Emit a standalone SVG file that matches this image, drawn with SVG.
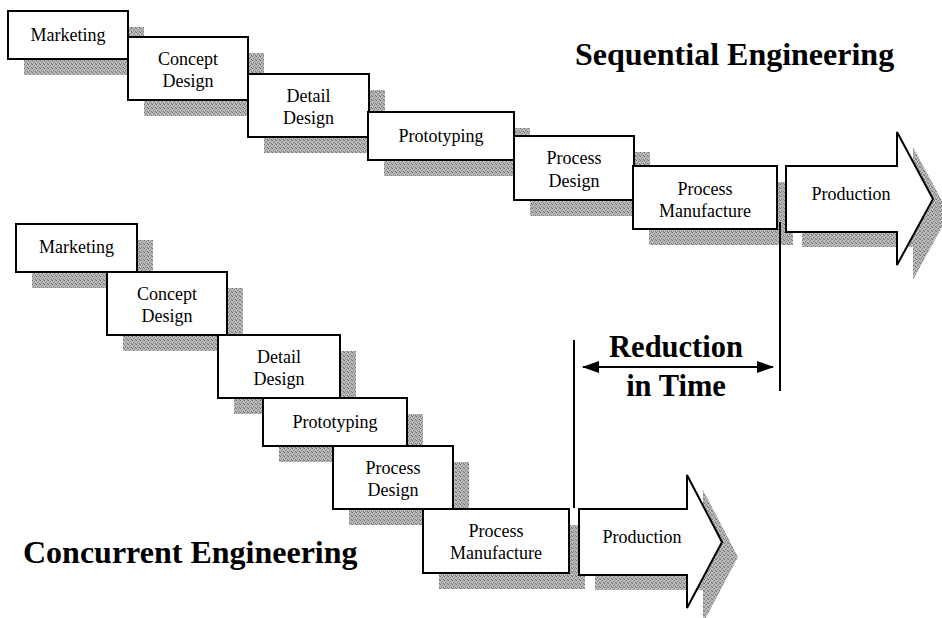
<svg xmlns="http://www.w3.org/2000/svg" width="942" height="618" viewBox="0 0 942 618">
  <style>
    .box { fill: #ffffff; stroke: #000000; stroke-width: 2; }
    .shadow { fill: url(#stipple); }
    .lbl { font-family: "Liberation Serif", "Times New Roman", serif; font-size: 18px; fill: #000000; text-anchor: middle; }
    .title { font-family: "Liberation Serif", "Times New Roman", serif; font-weight: bold; font-size: 32px; fill: #000000; }
    .big { font-family: "Liberation Serif", "Times New Roman", serif; font-weight: bold; font-size: 30.5px; fill: #000000; text-anchor: middle; }
    .rule { stroke: #000000; stroke-width: 2; fill: none; }
  </style>
  <defs>
    <!-- dithered grey used for drop shadows -->
    <pattern id="stipple" patternUnits="userSpaceOnUse" width="4" height="4">
      <rect width="4" height="4" fill="#bdbdbd"/>
      <rect x="0" y="0" width="1" height="1" fill="#6e6e6e"/>
      <rect x="2" y="1" width="1" height="1" fill="#808080"/>
      <rect x="1" y="2" width="1" height="1" fill="#858585"/>
      <rect x="3" y="3" width="1" height="1" fill="#727272"/>
      <rect x="3" y="0" width="1" height="1" fill="#a0a0a0"/>
      <rect x="1" y="3" width="1" height="1" fill="#a0a0a0"/>
    </pattern>
    <marker id="head" markerUnits="userSpaceOnUse" markerWidth="18" markerHeight="14" refX="16" refY="6" orient="auto-start-reverse">
      <path d="M0,0 L17,6 L0,12 Z" fill="#000"/>
    </marker>
  </defs>

  <rect width="942" height="618" fill="#ffffff"/>

  <!-- Sequential chain -->
  <g id="seq-marketing">
    <rect class="shadow" x="24" y="27" width="120" height="48"/>
    <rect class="box" x="8" y="11" width="120" height="48"/>
    <text class="lbl" x="68" y="41">Marketing</text>
  </g>
  <g id="seq-concept">
    <rect class="shadow" x="144" y="53" width="120" height="63"/>
    <rect class="box" x="128" y="37" width="120" height="63"/>
    <text class="lbl" x="188" y="65">Concept</text>
    <text class="lbl" x="188" y="87">Design</text>
  </g>
  <g id="seq-detail">
    <rect class="shadow" x="264" y="90" width="121" height="63"/>
    <rect class="box" x="248" y="74" width="121" height="63"/>
    <text class="lbl" x="308.5" y="102">Detail</text>
    <text class="lbl" x="308.5" y="124">Design</text>
  </g>
  <g id="seq-prototyping">
    <rect class="shadow" x="384" y="128" width="146" height="48"/>
    <rect class="box" x="368" y="112" width="146" height="48"/>
    <text class="lbl" x="441" y="142">Prototyping</text>
  </g>
  <g id="seq-process-design">
    <rect class="shadow" x="530" y="152" width="120" height="64"/>
    <rect class="box" x="514" y="136" width="120" height="64"/>
    <text class="lbl" x="574" y="164">Process</text>
    <text class="lbl" x="574" y="187">Design</text>
  </g>
  <g id="seq-process-manufacture">
    <rect class="shadow" x="649" y="182" width="144" height="63"/>
    <rect class="box" x="633" y="166" width="144" height="63"/>
    <text class="lbl" x="705" y="195">Process</text>
    <text class="lbl" x="705" y="217">Manufacture</text>
  </g>
  <g id="seq-production">
    <path class="shadow" transform="translate(16,15)" d="M786,166 L897,166 L897,132 L933,199 L897,265 L897,232 L786,232 Z"/>
    <path class="box" d="M786,166 L897,166 L897,132 L933,199 L897,265 L897,232 L786,232 Z"/>
    <text class="lbl" x="851" y="200">Production</text>
  </g>

  <!-- Concurrent chain -->
  <g id="con-marketing">
    <rect class="shadow" x="32" y="240" width="121" height="48"/>
    <rect class="box" x="16" y="224" width="121" height="48"/>
    <text class="lbl" x="76.5" y="253">Marketing</text>
  </g>
  <g id="con-concept">
    <rect class="shadow" x="123" y="288" width="120" height="63"/>
    <rect class="box" x="107" y="272" width="120" height="63"/>
    <text class="lbl" x="167" y="300">Concept</text>
    <text class="lbl" x="167" y="322">Design</text>
  </g>
  <g id="con-detail">
    <rect class="shadow" x="234" y="351" width="122" height="63"/>
    <rect class="box" x="218" y="335" width="122" height="63"/>
    <text class="lbl" x="279" y="363">Detail</text>
    <text class="lbl" x="279" y="385">Design</text>
  </g>
  <g id="con-prototyping">
    <rect class="shadow" x="279" y="414" width="144" height="48"/>
    <rect class="box" x="263" y="398" width="144" height="48"/>
    <text class="lbl" x="335" y="428">Prototyping</text>
  </g>
  <g id="con-process-design">
    <rect class="shadow" x="349" y="462" width="120" height="63"/>
    <rect class="box" x="333" y="446" width="120" height="63"/>
    <text class="lbl" x="393" y="474">Process</text>
    <text class="lbl" x="393" y="496">Design</text>
  </g>
  <g id="con-process-manufacture">
    <rect class="shadow" x="439" y="525" width="146" height="64"/>
    <rect class="box" x="423" y="509" width="146" height="64"/>
    <text class="lbl" x="496" y="537">Process</text>
    <text class="lbl" x="496" y="559">Manufacture</text>
  </g>
  <g id="con-production">
    <path class="shadow" transform="translate(16,15)" d="M579,509 L687,509 L687,475 L722,542 L687,608 L687,575 L579,575 Z"/>
    <path class="box" d="M579,509 L687,509 L687,475 L722,542 L687,608 L687,575 L579,575 Z"/>
    <text class="lbl" x="642" y="543">Production</text>
  </g>

  <!-- time markers and the span between them -->
  <g id="connectors">
    <line class="rule" x1="780" y1="222" x2="780" y2="391"/>
    <line class="rule" x1="574" y1="340" x2="574" y2="508"/>
    <line class="rule" x1="583" y1="367" x2="773" y2="367" marker-start="url(#head)" marker-end="url(#head)"/>
  </g>

  <g id="labels">
    <text class="title" x="575" y="65">Sequential Engineering</text>
    <text class="title" x="23" y="563">Concurrent Engineering</text>
    <text class="big" x="676" y="357">Reduction</text>
    <text class="big" x="676" y="396">in Time</text>
  </g>
</svg>
